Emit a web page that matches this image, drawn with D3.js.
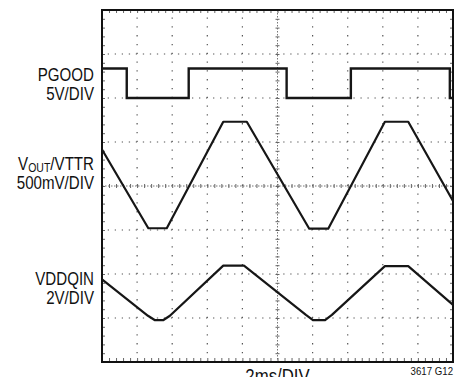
<!DOCTYPE html>
<html>
<head>
<meta charset="utf-8">
<script src="https://cdn.jsdelivr.net/npm/d3@7"></script>
<style>
  html, body { margin: 0; padding: 0; background: #fff; }
  svg { display: block; }
  text { font-family: "Liberation Sans", Arial, sans-serif; fill: #111; }
</style>
</head>
<body>
<script>
// Scope capture: 2ms per division horizontally, 10 divisions; 8 vertical divisions.
// Trace levels are in screen divisions, 0 = centre line, positive = up.

const pgoodTime = [0, 1.41, 4.94, 10.52, 14.18, 19.82, 20];
const pgoodLevel = [2.67, 2.0, 2.67, 2.0, 2.67, 2.0, 2.0];

const voutTime = [0, 2.64, 3.69, 6.91, 8.25, 11.81, 12.89, 16.12, 17.45, 20];
const voutLevel = [0.83, -0.96, -0.96, 1.46, 1.46, -0.97, -0.97, 1.46, 1.46, -0.34];

const vddqTime = [0, 2.62, 3.02, 3.48, 3.87, 6.91, 8.09, 11.62, 12.02, 12.71, 13.10, 16.12, 17.45, 20];
const vddqLevel = [-2.12, -2.95, -3.05, -3.05, -2.95, -1.81, -1.81, -2.93, -3.05, -3.05, -2.93, -1.82, -1.82, -2.70];

const traceLabels = [
  { lines: ["PGOOD", "5V/DIV"], baseline: 81 },
  { lines: ["V_OUT/VTTR", "500mV/DIV"], baseline: 170 },
  { lines: ["VDDQIN", "2V/DIV"], baseline: 285 }
];
const xAxisLabel = "2ms/DIV";
const figureId = "3617 G12";

const W = 455, H = 377;
const plotLeft = 102, plotRight = 453, plotTop = 10, plotBottom = 362;
const narrow = 0.84; // condensed lettering

const x = d3.scaleLinear().domain([0, 20]).range([plotLeft, plotRight]);
const y = d3.scaleLinear().domain([-4, 4]).range([plotBottom, plotTop]);

const svg = d3.select("body").append("svg").attr("width", W).attr("height", H);

const majorX = d3.range(2, 20, 2);
const majorY = d3.range(-3, 4, 1);
const minorX = d3.range(0, 20.001, 0.4);
const minorY = d3.range(-4, 4.001, 0.2);

// dotted graticule
const grid = svg.append("g").attr("stroke", "#555").attr("stroke-width", 1.2);
grid.selectAll("line.v").data(majorX.filter(d => d !== 10)).join("line")
  .attr("x1", d => x(d)).attr("x2", d => x(d))
  .attr("y1", plotTop).attr("y2", plotBottom)
  .attr("stroke-dasharray", "1.3,7.5")
  .attr("stroke-dashoffset", -7.5);
grid.selectAll("line.h").data(majorY.filter(d => d !== 0)).join("line")
  .attr("x1", plotLeft).attr("x2", plotRight)
  .attr("y1", d => y(d)).attr("y2", d => y(d))
  .attr("stroke-dasharray", "1.3,5.72")
  .attr("stroke-dashoffset", -5.72);

// centre axes with minor ticks
const axisStyle = g => {
  g.select(".domain").remove();
  g.selectAll(".tick line").attr("stroke", "#666").attr("stroke-width", 1);
};
svg.append("line").attr("x1", plotLeft).attr("x2", plotRight).attr("y1", y(0)).attr("y2", y(0))
  .attr("stroke", "#777").attr("stroke-width", 1).attr("stroke-dasharray", "1.5,1.5");
svg.append("line").attr("x1", x(10)).attr("x2", x(10)).attr("y1", plotTop).attr("y2", plotBottom)
  .attr("stroke", "#777").attr("stroke-width", 1).attr("stroke-dasharray", "1.5,1.5");
svg.append("g").attr("transform", `translate(0,${y(0) + 2})`)
  .call(d3.axisTop(x).tickValues(minorX).tickSize(4).tickFormat("")).call(axisStyle);
svg.append("g").attr("transform", `translate(${x(10) + 2},0)`)
  .call(d3.axisLeft(y).tickValues(minorY).tickSize(4).tickFormat("")).call(axisStyle);

// frame edge ticks
svg.append("g").attr("transform", `translate(0,${plotBottom})`)
  .call(d3.axisTop(x).tickValues(minorX).tickSize(4).tickFormat("")).call(axisStyle);
svg.append("g").attr("transform", `translate(0,${plotTop})`)
  .call(d3.axisBottom(x).tickValues(minorX).tickSize(3).tickFormat("")).call(axisStyle);
svg.append("g").attr("transform", `translate(${plotLeft},0)`)
  .call(d3.axisRight(y).tickValues(minorY).tickSize(3).tickFormat("")).call(axisStyle);
svg.append("g").attr("transform", `translate(${plotRight},0)`)
  .call(d3.axisLeft(y).tickValues(minorY).tickSize(3).tickFormat("")).call(axisStyle);

// frame
svg.append("rect").attr("x", plotLeft).attr("y", plotTop)
  .attr("width", plotRight - plotLeft).attr("height", plotBottom - plotTop)
  .attr("fill", "none").attr("stroke", "#111").attr("stroke-width", 2);

// traces
const plot = svg.append("g");
const traceLine = (times, levels, curve) => d3.line()
  .x((d, i) => x(times[i])).y(d => y(d)).curve(curve)(levels);

plot.append("path").attr("d", traceLine(pgoodTime, pgoodLevel, d3.curveStepAfter))
  .attr("fill", "none").attr("stroke", "#161616").attr("stroke-width", 2.4);
plot.append("path").attr("d", traceLine(voutTime, voutLevel, d3.curveLinear))
  .attr("fill", "none").attr("stroke", "#161616").attr("stroke-width", 2.2)
  .attr("stroke-linejoin", "round");
plot.append("path").attr("d", traceLine(vddqTime, vddqLevel, d3.curveLinear))
  .attr("fill", "none").attr("stroke", "#161616").attr("stroke-width", 2.2)
  .attr("stroke-linejoin", "round");

// channel labels, condensed horizontally
const labelX = 94;
const labels = svg.append("g").attr("transform", `translate(${labelX},0) scale(${narrow},1)`);
traceLabels.forEach(lab => {
  lab.lines.forEach((ln, k) => {
    const t = labels.append("text").attr("x", 0).attr("y", lab.baseline + k * 19)
      .attr("text-anchor", "end").attr("font-size", 18);
    if (ln.includes("_")) {
      const [head, rest] = ln.split("_");
      const sub = rest.split("/")[0];
      t.append("tspan").text(head);
      t.append("tspan").text(sub).attr("font-size", 12.5).attr("dy", 2.5);
      t.append("tspan").text(rest.slice(sub.length)).attr("dy", -2.5);
    } else {
      t.text(ln);
    }
  });
});

svg.append("g").attr("transform", `translate(${x(10)},0) scale(${narrow},1)`)
  .append("text").attr("x", 0).attr("y", 383).attr("text-anchor", "middle")
  .attr("font-size", 20).text(xAxisLabel);
svg.append("g").attr("transform", `translate(453,0) scale(${narrow},1)`)
  .append("text").attr("x", 0).attr("y", 375).attr("text-anchor", "end")
  .attr("font-size", 11.5).text(figureId);
</script>
</body>
</html>
